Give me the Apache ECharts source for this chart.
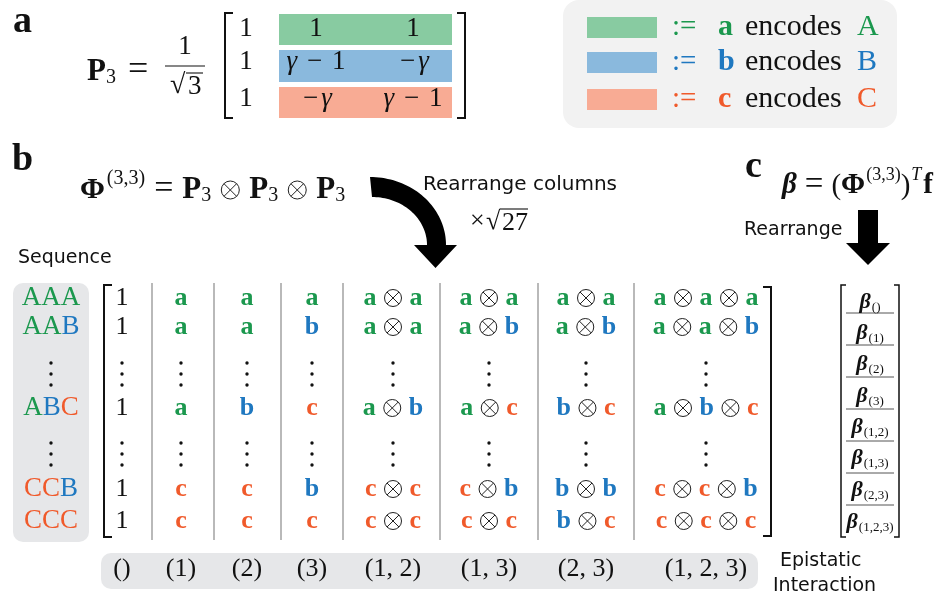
<!DOCTYPE html>
<html>
<head>
<meta charset="utf-8">
<script src="https://cdn.jsdelivr.net/npm/echarts@6/dist/echarts.min.js"></script>
<style>
  html, body { margin: 0; padding: 0; background: #ffffff; }
  #main { width: 950px; height: 601px; }
</style>
</head>
<body>
<div id="main"></div>
<script>
// ---------- content ----------
// genotype rows of the design matrix (null = vertical ellipsis row)
const sequences = ['AAA', 'AAB', null, 'ABC', null, 'CCB', 'CCC'];
// epistatic interaction labels, one per column block
const interactions = ['()', '(1)', '(2)', '(3)', '(1, 2)', '(1, 3)', '(2, 3)', '(1, 2, 3)'];
// cell entries: '1' or encoding letters joined by Kronecker products
const matrixRows = [
  ['1', 'a', 'a', 'a', 'aa', 'aa', 'aa', 'aaa'],
  ['1', 'a', 'a', 'b', 'aa', 'ab', 'ab', 'aab'],
  null,
  ['1', 'a', 'b', 'c', 'ab', 'ac', 'bc', 'abc'],
  null,
  ['1', 'c', 'c', 'b', 'cc', 'cb', 'bb', 'ccb'],
  ['1', 'c', 'c', 'c', 'cc', 'cc', 'bc', 'ccc']
];
// coefficient vector subscripts
const betaLabels = ['()', '(1)', '(2)', '(3)', '(1,2)', '(1,3)', '(2,3)', '(1,2,3)'];
// rows of P3 (γ written as g)
const p3Rows = [['1', '1', '1'], ['1', 'g − 1', '−g'], ['1', '−g', 'g − 1']];
// encoding legend: vector letter and the amino acid it encodes
const encodings = [['a', 'A'], ['b', 'B'], ['c', 'C']];

// ---------- layout ----------
const colX = [122, 181, 247, 312, 393, 489, 586, 706];
const colSep = [152, 214, 281, 343, 440, 538, 634];
const rowY = [298, 327, 374, 408, 454, 489, 521];
const seqX = 51;
const labelY = 569;
const betaX = 870;
const betaY = [302, 333, 364, 396, 427, 458, 490, 522];
const betaSep = [313, 345, 377, 409, 441, 473, 505];
const p3ColX = [246, 316, 413];
const p3RowY = [29, 62, 99];
const p3Band = [[14, 31], [50, 32], [87, 31]];
const legendY = [27, 62, 99];

// ---------- styles ----------
const GREEN = '#1b984e', BLUE = '#1f78c0', RED = '#f05a2b';
const letterColor = { a: GREEN, b: BLUE, c: RED, A: GREEN, B: BLUE, C: RED };
const bandColor = ['#88cba1', '#8ab9dd', '#f8ab94'];
const INK = '#111111';
const SERIF = '"Liberation Serif", "DejaVu Serif", serif';
const SANS = '"DejaVu Sans", sans-serif';
function F(size, weight, style) {
  return [style, weight, size + 'px', SERIF].filter(Boolean).join(' ');
}

const mctx = document.createElement('canvas').getContext('2d');
function tw(text, font) { mctx.font = font; return mctx.measureText(text).width; }

function txt(x, y, t, font, fill, align) {
  align = align || 'left';
  return {
    type: 'text', x: x, y: y,
    style: { text: t, font: font, fill: fill || INK, align: align, textAlign: align,
             verticalAlign: 'middle', textVerticalAlign: 'middle' }
  };
}
function otimes(cx, cy, r) {
  const d = r * 0.7071;
  const st = { stroke: '#222', lineWidth: 1, fill: 'none' };
  return [
    { type: 'circle', shape: { cx: cx, cy: cy, r: r }, style: st },
    { type: 'line', shape: { x1: cx - d, y1: cy - d, x2: cx + d, y2: cy + d }, style: st },
    { type: 'line', shape: { x1: cx - d, y1: cy + d, x2: cx + d, y2: cy - d }, style: st }
  ];
}
function vdots(cx, cy) {
  return [-11, 0, 11].map(function (d) {
    return { type: 'circle', shape: { cx: cx, cy: cy + d, r: 1.7 }, style: { fill: INK } };
  });
}
// lays out a row of pieces: {t, font, fill, dy, l, r} or {ot: radius, l, r}
function inline(x0, cy, pieces, anchor) {
  const ws = pieces.map(function (p) { return p.ot ? 2 * p.ot : tw(p.t, p.font); });
  let total = 0;
  pieces.forEach(function (p, i) { total += ws[i] + (p.l || 0) + (p.r || 0); });
  let x = anchor === 'left' ? x0 : x0 - total / 2;
  const out = [];
  pieces.forEach(function (p, i) {
    x += p.l || 0;
    if (p.ot) out.push.apply(out, otimes(x + p.ot, cy + (p.dy || 0), p.ot));
    else out.push(txt(x, cy + (p.dy || 0), p.t, p.font, p.fill, 'left'));
    x += ws[i] + (p.r || 0);
  });
  return out;
}
function group(children) { return { type: 'group', children: children }; }

function cellPieces(cell) {
  if (cell === '1') return [{ t: '1', font: F(26), fill: INK }];
  const ps = [];
  cell.split('').forEach(function (ch, i) {
    if (i) ps.push({ ot: 8.5, l: 8, r: 8 });
    ps.push({ t: ch, font: F(26, 'bold'), fill: letterColor[ch] });
  });
  return ps;
}
function p3Pieces(s) {
  const ps = [];
  s.split('').forEach(function (ch) {
    if (ch === 'g') ps.push({ t: 'γ', font: F(27, '', 'italic'), fill: INK });
    else if (ch === '−') ps.push({ t: '−', font: F(27), fill: INK, l: 3, r: 3 });
    else if (ch === ' ') ps.push({ t: ' ', font: F(27), fill: INK });
    else ps.push({ t: ch, font: F(27), fill: INK });
  });
  return ps;
}

// ---------- data for custom series ----------
const cellData = [];
rowY.forEach(function (y, r) {
  colX.forEach(function (x, c) { cellData.push([x, y, r, c]); });
});
const seqData = rowY.map(function (y, r) { return [seqX, y, r]; });
const labelData = colX.map(function (x, c) { return [x, labelY, c]; });
const betaData = betaY.map(function (y, i) { return [betaX, y, i]; });
const p3Data = [];
p3RowY.forEach(function (y, r) { p3ColX.forEach(function (x, c) { p3Data.push([x, y, r, c]); }); });
const legendData = legendY.map(function (y, i) { return [672, y, i]; });

// ---------- static drawing pieces ----------
const PI = Math.PI;
function arcPts(cx, cy, rx, ry, a0, a1, n) {
  const pts = [];
  for (let i = 0; i <= n; i++) {
    const a = a0 + (a1 - a0) * i / n;
    pts.push([cx + rx * Math.cos(a), cy + ry * Math.sin(a)]);
  }
  return pts;
}
const bigArrow = [].concat(
  arcPts(370, 245, 76, 68, -PI / 2, 0, 40),
  [[457, 245], [435.5, 268], [414, 245]],
  arcPts(372, 245, 55, 48, 0, -PI / 2, 40)
);
const downArrow = [[858, 210], [878, 210], [878, 243], [890, 243], [868, 265], [846, 243], [858, 243]];

function bracket(x, y1, y2, dir, tick, w) {
  // dir = +1 for left bracket (ticks point right), -1 for right bracket
  return {
    type: 'polyline',
    shape: { points: [[x + dir * tick, y1], [x, y1], [x, y2], [x + dir * tick, y2]] },
    style: { stroke: INK, lineWidth: w || 2, fill: 'none' }
  };
}
function hline(x1, x2, y, color, w) {
  return { type: 'line', shape: { x1: x1, y1: y, x2: x2, y2: y }, style: { stroke: color, lineWidth: w || 1 } };
}
function vline(x, y1, y2, color, w) {
  return { type: 'line', shape: { x1: x, y1: y1, x2: x, y2: y2 }, style: { stroke: color, lineWidth: w || 1 } };
}

const graphics = [];
// backgrounds
graphics.push({ type: 'rect', shape: { x: 563, y: 0, width: 334, height: 128, r: 16 }, style: { fill: '#f2f2f2' }, z: -10 });
graphics.push({ type: 'rect', shape: { x: 13, y: 283, width: 76, height: 259, r: 10 }, style: { fill: '#e6e7e9' }, z: -10 });
graphics.push({ type: 'rect', shape: { x: 101, y: 553, width: 657, height: 36, r: 10 }, style: { fill: '#e6e7e9' }, z: -10 });

// panel labels
graphics.push(txt(13, 22, 'a', F(38, 'bold'), INK));
graphics.push(txt(12, 160, 'b', F(38, 'bold'), INK));
graphics.push(txt(745, 167, 'c', F(38, 'bold'), INK));

// P3 = 1/sqrt(3) [ ... ]
graphics.push.apply(graphics, inline(87, 72, [
  { t: 'P', font: F(31, 'bold') },
  { t: '3', font: F(20), dy: 6 },
  { t: '=', font: F(36), l: 12, r: 10, dy: -1 }
], 'left'));
graphics.push(txt(185, 47, '1', F(27), INK, 'center'));
graphics.push(hline(165, 205, 66, INK, 1.2));
graphics.push(txt(170, 86, '√', F(28), INK, 'left'));
graphics.push(txt(188, 87, '3', F(27), INK, 'left'));
graphics.push(hline(186, 203, 73, INK, 1.1));
graphics.push(bracket(225, 13, 118, 1, 8, 2));
graphics.push(bracket(465, 13, 118, -1, 8, 2));

// Phi formula
const otf = { ot: 9, l: 10, r: 10 };
graphics.push.apply(graphics, inline(80, 190, [
  { t: 'Φ', font: F(30, 'bold') },
  { t: '(3,3)', font: F(20), dy: -11, l: 2 },
  { t: '=', font: F(34), l: 9, r: 9, dy: -1 },
  { t: 'P', font: F(31, 'bold') }, { t: '3', font: F(20), dy: 6 },
  otf,
  { t: 'P', font: F(31, 'bold') }, { t: '3', font: F(20), dy: 6 },
  otf,
  { t: 'P', font: F(31, 'bold') }, { t: '3', font: F(20), dy: 6 }
], 'left'));

// curved arrow and annotations
graphics.push({ type: 'polygon', shape: { points: bigArrow }, style: { fill: '#000' } });
graphics.push(txt(423, 185, 'Rearrange columns', '20px ' + SANS, INK));
graphics.push(txt(470, 221, '×', F(26), INK));
graphics.push(txt(486, 222, '√', F(26), INK));
graphics.push(txt(502, 223, '27', F(26), INK));
graphics.push(hline(500, 528, 209, INK, 1.1));
graphics.push(txt(18, 258, 'Sequence', '19px ' + SANS, INK));

// panel c formula
graphics.push.apply(graphics, inline(782, 186, [
  { t: 'β', font: F(29, 'bold', 'italic') },
  { t: '=', font: F(33), l: 8, r: 8, dy: -1 },
  { t: '(', font: F(29) },
  { t: 'Φ', font: F(29, 'bold') },
  { t: '(3,3)', font: F(18), dy: -11, l: 1 },
  { t: ')', font: F(29) },
  { t: 'T', font: F(18, '', 'italic'), dy: -11, l: 1, r: 2 },
  { t: 'f', font: F(29, 'bold') }
], 'left'));
graphics.push(txt(744, 230, 'Rearrange', '19px ' + SANS, INK));
graphics.push({ type: 'polygon', shape: { points: downArrow }, style: { fill: '#000' } });

// design matrix frame
graphics.push(bracket(104, 285, 537, 1, 8, 2));
graphics.push(bracket(771, 287, 536, -1, 8, 2));
colSep.forEach(function (x) { graphics.push(vline(x, 283, 540, '#8a8a8a', 1.2)); });

// beta vector frame
graphics.push(bracket(841, 285, 537, 1, 5, 1.5));
graphics.push(bracket(899, 285, 537, -1, 5, 1.5));
betaSep.forEach(function (y) { graphics.push(hline(846, 894, y, '#555', 1)); });

graphics.push(txt(780, 561, 'Epistatic', '19px ' + SANS, INK));
graphics.push(txt(773, 586, 'Interaction', '19px ' + SANS, INK));

// ---------- chart ----------
const chart = echarts.init(document.getElementById('main'), null, { renderer: 'canvas' });
const base = { type: 'custom', coordinateSystem: 'cartesian2d', clip: false, animation: false, silent: true };

chart.setOption({
  animation: false,
  backgroundColor: '#ffffff',
  grid: { left: 0, right: 0, top: 0, bottom: 0, containLabel: false },
  xAxis: { type: 'value', min: 0, max: 950, show: false },
  yAxis: { type: 'value', min: 0, max: 601, inverse: true, show: false },
  graphic: { elements: graphics },
  series: [
    Object.assign({}, base, {
      name: 'cells', data: cellData,
      renderItem: function (params, api) {
        const p = api.coord([api.value(0), api.value(1)]);
        const row = matrixRows[api.value(2)];
        if (!row) return group(vdots(p[0], p[1]));
        return group(inline(p[0], p[1], cellPieces(row[api.value(3)]), 'center'));
      }
    }),
    Object.assign({}, base, {
      name: 'sequences', data: seqData,
      renderItem: function (params, api) {
        const p = api.coord([api.value(0), api.value(1)]);
        const s = sequences[api.value(2)];
        if (!s) return group(vdots(p[0], p[1]));
        return group(inline(p[0], p[1], s.split('').map(function (ch) {
          return { t: ch, font: F(27), fill: letterColor[ch] };
        }), 'center'));
      }
    }),
    Object.assign({}, base, {
      name: 'interactions', data: labelData,
      renderItem: function (params, api) {
        const p = api.coord([api.value(0), api.value(1)]);
        return txt(p[0], p[1], interactions[api.value(2)], F(26), INK, 'center');
      }
    }),
    Object.assign({}, base, {
      name: 'beta', data: betaData,
      renderItem: function (params, api) {
        const p = api.coord([api.value(0), api.value(1)]);
        return group(inline(p[0], p[1], [
          { t: 'β', font: F(22, 'bold', 'italic') },
          { t: betaLabels[api.value(2)], font: F(13), dy: 6, l: 1 }
        ], 'center'));
      }
    }),
    Object.assign({}, base, {
      name: 'P3', data: p3Data,
      renderItem: function (params, api) {
        const p = api.coord([api.value(0), api.value(1)]);
        const r = api.value(2), c = api.value(3);
        const kids = [];
        if (c === 1) {
          const top = api.coord([279, p3Band[r][0]]);
          const sz = api.size([173, p3Band[r][1]]);
          kids.push({ type: 'rect', shape: { x: top[0], y: top[1], width: sz[0], height: sz[1] },
                      style: { fill: bandColor[r] }, z2: -1 });
        }
        kids.push.apply(kids, inline(p[0], p[1], p3Pieces(p3Rows[r][c]), 'center'));
        return group(kids);
      }
    }),
    Object.assign({}, base, {
      name: 'encodings', data: legendData,
      renderItem: function (params, api) {
        const p = api.coord([api.value(0), api.value(1)]);
        const i = api.value(2);
        const e = encodings[i];
        const col = letterColor[e[0]];
        const rp = api.coord([587, legendY[i] - 10]);
        const sz = api.size([70, 21]);
        return group([
          { type: 'rect', shape: { x: rp[0], y: rp[1], width: sz[0], height: sz[1] }, style: { fill: bandColor[i] } },
          txt(p[0], p[1], ':=', F(29), col, 'left'),
          txt(p[0] + 46, p[1], e[0], F(30, 'bold'), col, 'left'),
          txt(p[0] + 73, p[1], 'encodes', F(30), INK, 'left'),
          txt(p[0] + 185, p[1], e[1], F(30), col, 'left')
        ]);
      }
    })
  ]
});
</script>
</body>
</html>
